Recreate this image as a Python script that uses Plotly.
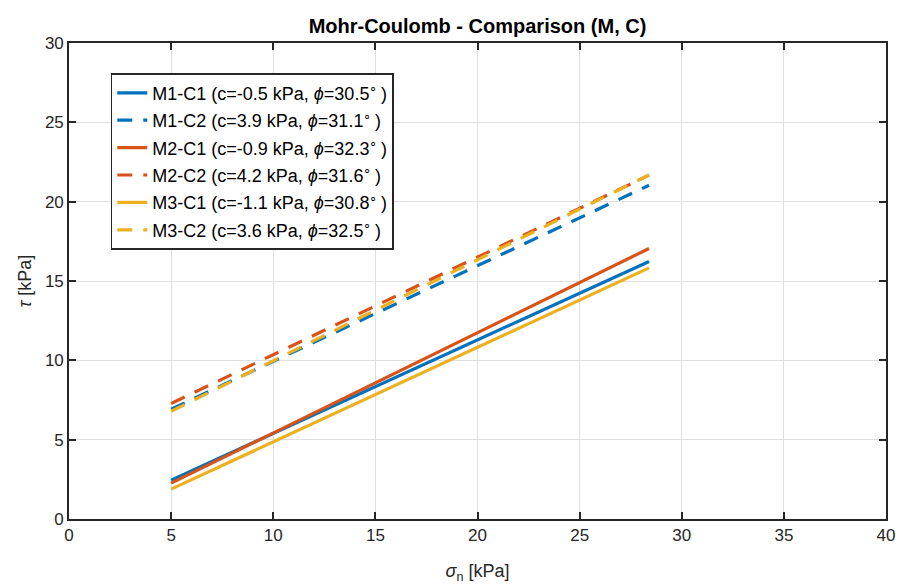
import plotly.graph_objects as go

sigma = [5.0, 28.4]
names = [
    "M1-C1 (c=-0.5 kPa, <i>ϕ</i>=30.5<sup>∘</sup>\u2009)",
    "M1-C2 (c=3.9 kPa, <i>ϕ</i>=31.1<sup>∘</sup>\u2009)",
    "M2-C1 (c=-0.9 kPa, <i>ϕ</i>=32.3<sup>∘</sup>\u2009)",
    "M2-C2 (c=4.2 kPa, <i>ϕ</i>=31.6<sup>∘</sup>\u2009)",
    "M3-C1 (c=-1.1 kPa, <i>ϕ</i>=30.8<sup>∘</sup>\u2009)",
    "M3-C2 (c=3.6 kPa, <i>ϕ</i>=32.5<sup>∘</sup>\u2009)",
]
tau_m1c1 = [2.45, 16.23]
tau_m1c2 = [6.92, 21.03]
tau_m2c1 = [2.26, 17.05]
tau_m2c2 = [7.28, 21.67]
tau_m3c1 = [1.88, 15.83]
tau_m3c2 = [6.79, 21.69]
series = [tau_m1c1, tau_m1c2, tau_m2c1, tau_m2c2, tau_m3c1, tau_m3c2]
colors = ["#0072BD", "#0072BD", "#D95319", "#D95319", "#EDB120", "#EDB120"]
dashes = ["solid", "15px,11px", "solid", "15px,11px", "solid", "15px,11px"]

x_ticks = [0, 5, 10, 15, 20, 25, 30, 35, 40]
y_ticks = [0, 5, 10, 15, 20, 25, 30]

FONT = "Liberation Sans, Arial, sans-serif"

fig = go.Figure()
for i, (n, t, c, d) in enumerate(zip(names, series, colors, dashes)):
    fig.add_trace(go.Scatter(x=sigma, y=t, mode="lines", name=n, legendgroup=f"g{i}",
                             line=dict(color=c, width=3.2, dash=d)))

axis_common = dict(
    showgrid=True, gridcolor="#DFDFDF", gridwidth=1,
    showline=True, linecolor="#262626", linewidth=1.6, mirror="ticks",
    ticks="inside", ticklen=7, tickcolor="#262626", tickwidth=1.6,
    zeroline=False, automargin=False,
    tickfont=dict(family=FONT, size=17, color="#262626"),
)
fig.update_xaxes(range=[0, 40], tickvals=x_ticks,
                 title=dict(text="<i>σ</i><sub>n</sub> [kPa]", standoff=20,
                            font=dict(family=FONT, size=18, color="#262626")),
                 **axis_common)
fig.update_yaxes(range=[0, 30], tickvals=y_ticks,
                 title=dict(text="<i>τ</i> [kPa]", standoff=9,
                            font=dict(family=FONT, size=18, color="#262626")),
                 **axis_common)

fig.update_layout(
    width=899, height=586,
    margin=dict(l=69, r=13, t=43, b=67, autoexpand=False),
    paper_bgcolor="white", plot_bgcolor="white",
    title=dict(text="<b>Mohr-Coulomb - Comparison (M, C)</b>", xref="paper", x=0.5,
               xanchor="center", yref="container", y=0.968, yanchor="top",
               font=dict(family=FONT, size=20, color="black")),
    legend=dict(x=0.051, y=0.937, xanchor="left", yanchor="top",
                bgcolor="white", bordercolor="#262626", borderwidth=1.6,
                font=dict(family=FONT, size=18, color="black"),
                tracegroupgap=1),
    showlegend=True,
)

fig.write_html("out.html", config={"displayModeBar": False},
               post_script="document.body.style.margin='0px';")
